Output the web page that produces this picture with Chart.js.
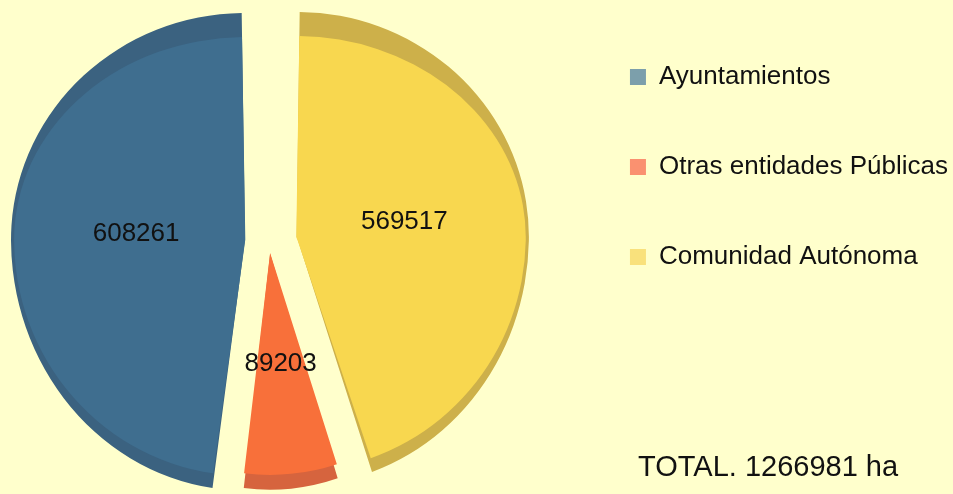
<!DOCTYPE html>
<html>
<head>
<meta charset="utf-8"/>
<style>
  html,body{margin:0;padding:0;background:#ffffcc;overflow:hidden;width:953px;height:494px;}
  /* canvas starts a bit left of the page so the pie can sit close to the left edge */
  #wrap{position:relative;width:981px;height:500px;margin-left:-28px;}
</style>
</head>
<body>
<div id="wrap"><canvas id="c"></canvas></div>
<script src="https://cdn.jsdelivr.net/npm/chart.js@4.4.0/dist/chart.umd.min.js"></script>
<script>
// clockwise from 12 o'clock: Comunidad, Otras, Ayuntamientos
const categories = ["Comunidad Autónoma", "Otras entidades Públicas", "Ayuntamientos"];
const values     = [569517, 89203, 608261];
const unit       = "ha";

const FACE    = ["#f8d74f", "#f8703a", "#3f6e8f"];
const RIM     = ["#cdb04a", "#d6643e", "#3b6280"];
const LEGEND  = ["#f9e17c", "#fa9170", "#7c9fab"];
const EXPLODE = [28, 12, 24];          // px, arc offset is divided by 4 in v4
const FONT    = "'Liberation Sans', Arial, sans-serif";
const SHIFT   = 28;                    // canvas x of page x = 0

const total = values.reduce((a, b) => a + b, 0);

// fake perspective: above and below the centre line the pie is scaled
// differently, the back rim a bit larger than the front face
const RIM_UP = 0.968, RIM_DOWN = 1.073;
const FACE_UP = 0.866, FACE_DOWN = 1.009, FACE_SX = 0.988;

function half(ctx, cx, cy, upper, sx, sy) {
  ctx.beginPath();
  if (upper) ctx.rect(-2000, -2000, 5000, 2000 + cy);
  else ctx.rect(-2000, cy, 5000, 3000);
  ctx.clip();
  ctx.translate(cx, cy);
  ctx.scale(sx, sy);
  ctx.translate(-cx, -cy);
}

function drawArcs(ctx, arcs, colors) {
  arcs.forEach((a, i) => {
    const el = Object.create(a);
    el.options = Object.assign({}, a.options, colors ? { backgroundColor: colors[i] } : {});
    el.draw(ctx);
  });
}

const depth = {
  id: "depth",
  beforeDatasetsDraw(chart) {
    const ctx = chart.ctx;
    const arcs = chart.getDatasetMeta(0).data;
    const cx = arcs[0].x, cy = arcs[0].y;
    [[true, RIM_UP], [false, RIM_DOWN]].forEach(([up, s]) => {
      ctx.save();
      half(ctx, cx, cy, up, 1, s);
      drawArcs(ctx, arcs, RIM);
      ctx.restore();
    });
    // upper half of the face is drawn by the chart itself
    ctx.save();
    half(ctx, cx, cy, true, FACE_SX, FACE_UP);
  },
  afterDatasetsDraw(chart) {
    const ctx = chart.ctx;
    ctx.restore();
    const arcs = chart.getDatasetMeta(0).data;
    const cx = arcs[0].x, cy = arcs[0].y;
    ctx.save();
    half(ctx, cx, cy, false, FACE_SX, FACE_DOWN);
    drawArcs(ctx, arcs, null);
    ctx.restore();

    ctx.save();
    ctx.font = "26px " + FONT;
    ctx.fillStyle = "#111";
    ctx.textAlign = "center";
    ctx.textBaseline = "middle";
    arcs.forEach((a, i) => {
      const mid = (a.startAngle + a.endAngle) / 2;
      const r = a.options.offset / 4 + a.outerRadius * 0.52;
      const x = a.x + Math.cos(mid) * r, y = a.y + Math.sin(mid) * r;
      const sy = y < cy ? FACE_UP : FACE_DOWN;
      ctx.fillText(String(values[i]), cx + (x - cx) * FACE_SX, cy + (y - cy) * sy);
    });
    ctx.restore();
  },
  afterDraw(chart) {
    const ctx = chart.ctx;
    ctx.save();
    ctx.font = "29px " + FONT;
    ctx.fillStyle = "#111";
    ctx.textBaseline = "alphabetic";
    ctx.fillText("TOTAL. " + total + " " + unit, 638 + SHIFT, 476);
    ctx.restore();
  }
};

new Chart(document.getElementById("c"), {
  type: "pie",
  data: {
    labels: categories,
    datasets: [{
      data: values,
      backgroundColor: FACE,
      borderWidth: 0,
      offset: EXPLODE.map(v => v * 4),
      hoverOffset: 0
    }]
  },
  options: {
    responsive: true,
    maintainAspectRatio: false,
    animation: false,
    events: [],
    radius: 213,
    layout: { padding: { left: 0, right: -5, top: 0, bottom: 18 } },
    plugins: {
      tooltip: { enabled: false },
      legend: {
        position: "right",
        align: "start",
        reverse: true,
        labels: {
          boxWidth: 16,
          boxHeight: 16,
          padding: 64,
          color: "#111",
          font: { family: FONT, size: 26 },
          generateLabels(chart) {
            const items = Chart.overrides.pie.plugins.legend.labels.generateLabels(chart);
            items.forEach((it, i) => {
              it.fillStyle = LEGEND[i];
              it.strokeStyle = LEGEND[i];
              it.lineWidth = 0;
            });
            return items;
          }
        }
      }
    }
  },
  plugins: [depth]
});
</script>
</body>
</html>
